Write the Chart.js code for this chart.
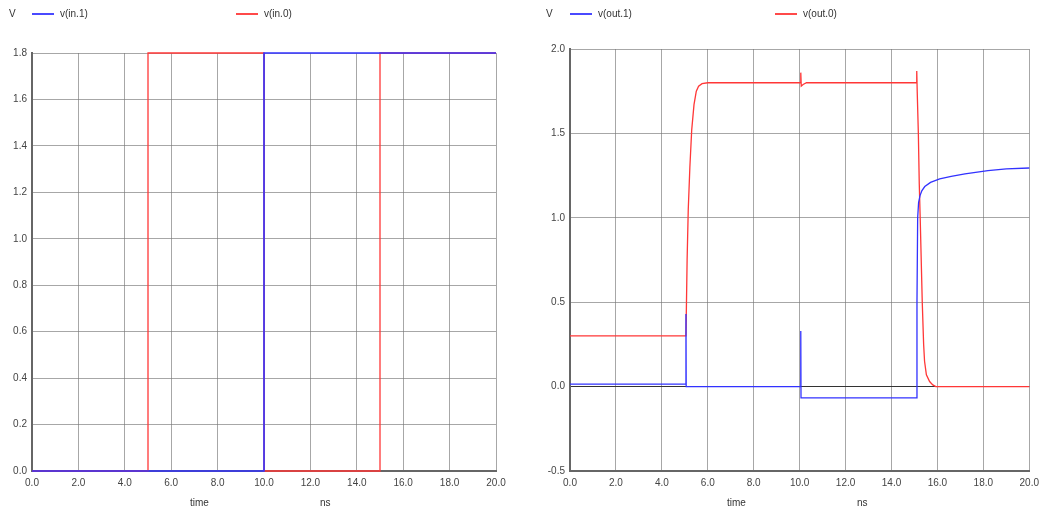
<!DOCTYPE html>
<html>
<head>
<meta charset="utf-8">
<script src="https://cdn.jsdelivr.net/npm/chart.js@4/dist/chart.umd.min.js"></script>
<style>
  body { margin: 0; background: #fff; font-family: "Liberation Sans", Arial, sans-serif; }
  #wrap { position: relative; width: 1045px; height: 510px; }
  canvas { position: absolute; top: 0; }
  .lbl { position: absolute; font-size: 10px; color: #333; white-space: nowrap; line-height: 12px; }
  .sw { position: absolute; height: 2px; width: 22px; }
</style>
</head>
<body>
<div id="wrap">
  <canvas id="inChart" width="520" height="510" style="left:0"></canvas>
  <canvas id="outChart" width="525" height="510" style="left:520px"></canvas>

  <div class="lbl" style="left:9px;top:8px">V</div>
  <div class="sw" style="left:32px;top:13px;background:#4a4aff"></div>
  <div class="lbl" style="left:60px;top:8px">v(in.1)</div>
  <div class="sw" style="left:236px;top:13px;background:#ff4a4a"></div>
  <div class="lbl" style="left:264px;top:8px">v(in.0)</div>
  <div class="lbl" style="left:190px;top:497px">time</div>
  <div class="lbl" style="left:320px;top:497px">ns</div>

  <div class="lbl" style="left:546px;top:8px">V</div>
  <div class="sw" style="left:570px;top:13px;background:#4a4aff"></div>
  <div class="lbl" style="left:598px;top:8px">v(out.1)</div>
  <div class="sw" style="left:775px;top:13px;background:#ff4a4a"></div>
  <div class="lbl" style="left:803px;top:8px">v(out.0)</div>
  <div class="lbl" style="left:727px;top:497px">time</div>
  <div class="lbl" style="left:857px;top:497px">ns</div>
</div>
<script>
// input waveforms (ns, V)
const inTime1 = [0, 10, 10, 20];
const inV1    = [0, 0, 1.8, 1.8];
const inTime0 = [0, 5, 5, 10, 10, 15, 15, 20];
const inV0    = [0, 0, 1.8, 1.8, 0, 0, 1.8, 1.8];

// output waveforms (ns, V)
const outTime1 = [0, 5.05, 5.05, 5.06, 10.05, 10.05, 10.06, 15.1, 15.11, 15.14, 15.18, 15.24, 15.32, 15.45, 15.7, 16.1, 16.6, 17.2, 18.2, 19.0, 20];
const outV1    = [0.015, 0.015, 0.43, 0, 0, 0.33, -0.067, -0.067, 0.5, 1.0, 1.09, 1.13, 1.16, 1.185, 1.21, 1.23, 1.245, 1.26, 1.28, 1.29, 1.295];
const outTime0 = [0, 5.05, 5.1, 5.15, 5.22, 5.3, 5.4, 5.5, 5.6, 5.75, 6.0, 10.05, 10.05, 10.07, 10.15, 10.3, 15.1, 15.1, 15.12, 15.17, 15.21, 15.25, 15.34, 15.4, 15.44, 15.52, 15.66, 15.8, 15.93, 20];
const outV0    = [0.3, 0.3, 0.75, 1.05, 1.3, 1.52, 1.67, 1.75, 1.78, 1.795, 1.8, 1.8, 1.86, 1.78, 1.79, 1.8, 1.8, 1.87, 1.75, 1.5, 1.2, 1.0, 0.5, 0.25, 0.15, 0.07, 0.03, 0.01, 0, 0];

const timeTicks = [0, 2, 4, 6, 8, 10, 12, 14, 16, 18, 20];

const BLUE = 'rgb(50,50,255)';
const RED = 'rgb(255,55,55)';

function toPoints(xs, ys) {
  return xs.map((x, i) => ({x: x, y: ys[i]}));
}

function trace(xs, ys, color, width) {
  return {
    data: toPoints(xs, ys),
    borderColor: color,
    borderWidth: width,
    pointRadius: 0,
    tension: 0,
    fill: false,
    clip: false
  };
}

function buildChart(id, datasets, yMin, yMax, yStep, yWidth, pad, darkZero) {
  const ctx = document.getElementById(id).getContext('2d');
  return new Chart(ctx, {
    type: 'line',
    data: {datasets: datasets},
    options: {
      responsive: false,
      animation: false,
      layout: {padding: pad},
      plugins: {legend: {display: false}, tooltip: {enabled: false}},
      scales: {
        x: {
          type: 'linear',
          min: 0,
          max: 20,
          afterBuildTicks: (s) => { s.ticks = timeTicks.map(v => ({value: v})); },
          afterFit: (s) => { s.height = 39 - pad.bottom; },
          ticks: {
            padding: 6,
            maxRotation: 0,
            color: '#444',
            font: {family: 'Liberation Sans', size: 10},
            callback: (v) => Number(v).toFixed(1)
          },
          grid: {color: 'rgba(120,120,120,0.65)', lineWidth: 1, drawTicks: false},
          border: {color: '#666', width: 2}
        },
        y: {
          min: yMin,
          max: yMax,
          afterFit: (s) => { s.width = yWidth; },
          ticks: {
            stepSize: yStep,
            padding: 5,
            color: '#444',
            font: {family: 'Liberation Sans', size: 10},
            callback: (v) => Number(v).toFixed(1)
          },
          grid: {
            color: (c) => (darkZero && c.tick && c.tick.value === 0) ? '#333' : 'rgba(120,120,120,0.65)',
            lineWidth: 1,
            drawTicks: false
          },
          border: {color: '#666', width: 2}
        }
      }
    }
  });
}

// blue first in the list so it is drawn on top
buildChart('inChart',
  [trace(inTime1, inV1, BLUE, 1.6), trace(inTime0, inV0, RED, 1.3)],
  0, 1.8, 0.2, 32, {top: 53, right: 24, bottom: 0, left: 0}, false);

buildChart('outChart',
  [trace(outTime1, outV1, BLUE, 1.3), trace(outTime0, outV0, RED, 1.3)],
  -0.5, 2.0, 0.5, 50, {top: 49, right: 13, bottom: 0, left: 0}, true);
</script>
</body>
</html>
